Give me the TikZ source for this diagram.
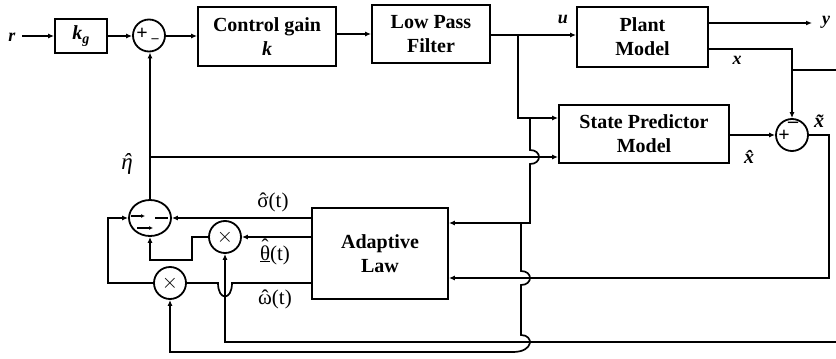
\documentclass[tikz,border=0pt]{standalone}
\usepackage{fontspec}
\setmainfont{Liberation Serif}
\usetikzlibrary{arrows.meta,shapes.geometric}

% a letter with a circumflex set over it, optionally raised
\newcommand{\circover}[2][0pt]{\mbox{\ooalign{#2\cr\hidewidth\raisebox{#1}{\char"02C6}\hidewidth\cr}}}

\tikzset{
  wire/.style={line width=1.7pt, line join=miter},
  arr/.style={wire, -{Latex[length=6pt,width=5pt]}},
  blk/.style={draw, line width=1.8pt, align=center, inner sep=0pt,
              font=\fontsize{20}{24}\selectfont\bfseries},
  sumc/.style={draw, line width=1.8pt, circle, minimum size=32pt, inner sep=0pt},
  mulc/.style={draw, line width=1.8pt, circle, minimum size=32pt, inner sep=0pt,
               font=\fontsize{22}{22}\selectfont},
  var/.style={inner sep=0pt, font=\fontsize{18}{18}\selectfont\bfseries\itshape},
  lbl/.style={inner sep=0pt, font=\fontsize{21}{21}\selectfont},
  sgn/.style={inner sep=0pt, font=\fontsize{20}{20}\selectfont\bfseries},
}

\begin{document}
\begin{tikzpicture}[x=1pt, y=-1pt]
\useasboundingbox (0,0) rectangle (836,359);

% blocks
\node[blk, minimum width=52pt, minimum height=34pt] (kg) at (81,36) {\textit{k}\textsubscript{\textit{g}}};
\node[blk, minimum width=138pt, minimum height=59pt] (ctrl) at (267,36.5) {Control gain\\\textit{k}};
\node[blk, minimum width=118pt, minimum height=58pt] (lpf) at (431,34) {Low Pass\\Filter};
\node[blk, minimum width=131pt, minimum height=60pt] (plant) at (642.5,37) {Plant\\Model};
\node[blk, minimum width=170pt, minimum height=58pt] (sp) at (644,134) {State Predictor\\Model};
\node[blk, minimum width=136pt, minimum height=91pt] (al) at (380,253.5) {Adaptive\\Law};

% summing junctions and multipliers
\node[sumc] (s1) at (149,35.5) {};
\node[sumc] (s2) at (792,135) {};
\node[draw, line width=1.8pt, ellipse, minimum width=42pt, minimum height=36pt, inner sep=0pt] (eta) at (150,218) {};
\node[mulc] (m1) at (225,237) {$\times$};
\node[mulc] (m2) at (170,283) {$\times$};

% signs
\node[sgn] (p1) at (142,34) {+};
\node[sgn, font=\fontsize{14}{14}\selectfont\bfseries] (n1) at (155,41) {--};
\node[sgn] (p2) at (784,136) {+};
\node[sgn] (n2) at (793,125) {--};

% marks inside the eta junction
\draw[arr, line width=1.4pt, -{Latex[length=4pt,width=4pt]}] (131,216) -- (145,216);
\draw[wire, line width=1.4pt] (155,218) -- (168,218);
\draw[arr, line width=1.4pt, -{Latex[length=4pt,width=4pt]}] (137,228) -- (153,228);

% forward path
\coordinate (rin) at (22,36);
\node[var] (r) at (12,37) {r};
\draw[arr] (rin) -- (kg.west |- rin);
\draw[arr] (kg.east |- 0,36) -- (s1.west |- 0,36);
\draw[arr] (s1.east |- 0,36) -- (ctrl.west |- 0,36);
\draw[arr] (ctrl.east |- 0,34) -- (lpf.west |- 0,34);
\draw[arr] (lpf.east |- 0,35) -- (plant.west |- 0,35);
\node[var] (u) at (563,19) {u};

% plant outputs
\coordinate (yout) at (812,23);
\draw[arr] (plant.east |- yout) -- (yout);
\node[var] (y) at (826,22) {y};
\coordinate (xc) at (792,49);
\draw[arr] (plant.east |- xc) -- (xc) -- (s2.north);
\node[var] (xl) at (737,60) {x};
\coordinate (xr) at (836,70);
\draw[wire] (xc |- xr) -- (xr);

% predictor inputs
\coordinate (uj) at (518,35);
\draw[arr] (uj) -- (518,118) -- (sp.west |- 0,118);
\coordinate (ud) at (530,118);
\draw[arr] (ud) -- (530,150) .. controls (542,150) and (542,164) .. (530,164)
  -- (530,223) -- (al.east |- 0,223);

% eta path
\coordinate (etaj) at (149,157);
\draw[arr] (eta.north) -- (eta.north |- s1.south);
\draw[arr] (etaj) -- (sp.west |- etaj);
\node[lbl, font=\fontsize{23}{23}\selectfont\itshape] (etal) at (127,164) {\circover{η}};

% prediction error
\draw[arr] (sp.east |- s2) -- (s2.west);
\node[var, font=\fontsize{20}{20}\selectfont\bfseries\itshape] (xh) at (749,157) {\^{x}};
\node[var, font=\fontsize{20}{20}\selectfont\bfseries\itshape] (xt) at (819,121) {\~{x}};
\draw[arr] (s2.east) -- (829,135) -- (829,278) -- (al.east |- 0,278);

% u to the lower multiplier
\coordinate (ul) at (521,223);
\draw[arr] (ul) -- (521,271) .. controls (533,271) and (533,285) .. (521,285)
  -- (521,335) .. controls (534,335) and (534,352) .. (513,352)
  -- (170,352) -- (m2.south);

% x to the upper multiplier
\coordinate (xb) at (836,342);
\draw[arr] (xb) -- (225,342) -- (m1.south);

% adaptive law outputs
\draw[arr] (al.west |- 0,218) -- (eta.east);
\node[lbl] (sig) at (273,202) {\circover{σ}(t)};
\draw[arr] (al.west |- 0,237) -- (m1.east);
\node[lbl] (th) at (275,255) {\underline{\circover[0.3em]{θ}}(t)};
\draw[wire] (al.west |- 0,283) -- (232,283) .. controls (232,301) and (218,301) .. (218,283) -- (m2.east);
\node[lbl] (om) at (275,299) {\circover{ω}(t)};

% multiplier outputs into the eta junction
\draw[arr] (m1.west) -- (192,237) -- (192,260) -- (eta.south |- 0,260) -- (eta.south);
\draw[arr] (m2.west) -- (108,283) -- (108,218) -- (eta.west);
\end{tikzpicture}
\end{document}
